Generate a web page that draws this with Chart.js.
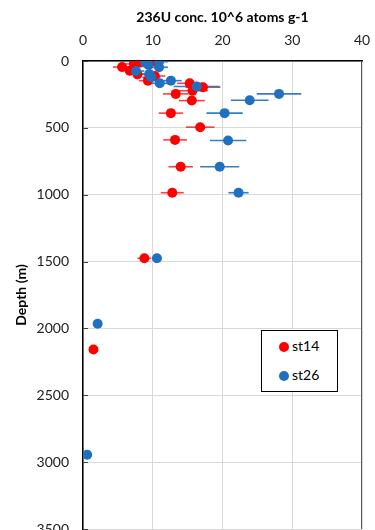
<!DOCTYPE html>
<html>
<head>
<meta charset="utf-8">
<script src="https://cdn.jsdelivr.net/npm/chart.js@4.4.1/dist/chart.umd.min.js"></script>
<style>
  html, body { margin: 0; padding: 0; background: #fff; overflow: hidden; }
  #wrap { position: relative; width: 375px; height: 548px; }
  #legend {
    position: absolute; left: 261px; top: 330px; width: 77px; height: 62px;
    border: 1px solid #000; box-sizing: border-box; background: #fff;
    font-family: Lato, "Open Sans", sans-serif; font-size: 14px; color: #000;
  }
  #legend .item { position: absolute; left: 17px; height: 16px; line-height: 16px; }
  #legend .dot { display: inline-block; width: 10px; height: 10px; border-radius: 50%; vertical-align: -1px; margin-right: 3px; }
</style>
</head>
<body>
<div id="wrap">
  <canvas id="chart" width="375" height="548"></canvas>
  <div id="legend">
    <div class="item" style="top:7px"><span class="dot" style="background:#ff0000"></span>st14</div>
    <div class="item" style="top:36px"><span class="dot" style="background:#1f70c1"></span>st26</div>
  </div>
</div>
<script>
// --- data ---
const depth14 = [5, 12, 22, 45, 72, 100, 112, 147, 167, 196, 222, 246, 296, 390, 495, 590, 791, 985, 1475, 2157];
const conc14  = [9.8, 8.2, 7.3, 5.6, 6.7, 7.8, 10.3, 9.3, 15.3, 17.2, 15.7, 13.3, 15.6, 12.6, 16.8, 13.2, 14.0, 12.8, 8.8, 1.5];
const err14   = [1.5, 1.5, 1.5, 1.3, 1.3, 1.3, 1.5, 1.3, 1.8, 2.5, 2.2, 1.85, 1.85, 1.75, 2.05, 1.7, 1.75, 1.65, 1.0, 0];

const depth26 = [5, 12, 30, 47, 75, 97, 122, 147, 167, 191, 246, 293, 390, 595, 791, 985, 1475, 1965, 2945];
const conc26  = [10.9, 8.9, 9.4, 10.9, 7.6, 9.5, 9.8, 12.6, 11.0, 16.3, 28.1, 23.9, 20.3, 20.8, 19.6, 22.3, 10.6, 2.1, 0.6];
const err26   = [1.3, 1.2, 1.2, 1.3, 1.2, 1.3, 1.3, 1.55, 1.5, 3.3, 3.2, 2.7, 2.6, 2.6, 2.8, 1.45, 0.7, 0, 0];

const xTicks = [0, 10, 20, 30, 40];
const yTicks = [0, 500, 1000, 1500, 2000, 2500, 3000, 3500];

const RED = '#ff0000';
const BLUE = '#1f70c1';
const FONT = 'Lato, "Open Sans", sans-serif';

const toPoints = (xs, ys) => xs.map((v, i) => ({ x: v, y: ys[i] }));

// horizontal error bars + frame bits, drawn under the markers
const errorBars = {
  id: 'errorBars',
  beforeDatasetsDraw(chart) {
    const { ctx, chartArea: a, scales: { x, y } } = chart;
    ctx.save();
    // inner tick marks on the depth axis
    ctx.strokeStyle = '#404040';
    ctx.lineWidth = 1;
    yTicks.forEach(t => {
      const py = Math.round(y.getPixelForValue(t)) + 0.5;
      ctx.beginPath(); ctx.moveTo(a.left, py); ctx.lineTo(a.left + 5, py); ctx.stroke();
    });
    // right frame
    ctx.strokeStyle = '#595959';
    ctx.beginPath(); ctx.moveTo(a.right - 0.5, a.top); ctx.lineTo(a.right - 0.5, a.bottom); ctx.stroke();

    chart.data.datasets.forEach((ds, i) => {
      const meta = chart.getDatasetMeta(i);
      if (meta.hidden) return;
      ctx.strokeStyle = ds.errColor;
      ctx.lineWidth = 1.6;
      ds.data.forEach((p, j) => {
        const e = ds.xErr[j];
        if (!e) return;
        const py = y.getPixelForValue(p.y);
        ctx.beginPath();
        ctx.moveTo(x.getPixelForValue(p.x - e), py);
        ctx.lineTo(x.getPixelForValue(p.x + e), py);
        ctx.stroke();
      });
    });
    ctx.restore();
  }
};

new Chart(document.getElementById('chart'), {
  type: 'scatter',
  data: {
    datasets: [
      {
        label: 'st14', data: toPoints(conc14, depth14), xErr: err14, errColor: 'rgba(255,30,30,0.85)',
        backgroundColor: RED, borderColor: RED, pointRadius: 5, pointBorderWidth: 0, order: 2
      },
      {
        label: 'st26', data: toPoints(conc26, depth26), xErr: err26, errColor: 'rgba(31,112,193,0.9)',
        backgroundColor: BLUE, borderColor: BLUE, pointRadius: 5, pointBorderWidth: 0, order: 1
      }
    ]
  },
  options: {
    responsive: false,
    animation: false,
    layout: { padding: { left: 0, right: 13, top: 0, bottom: 19 } },
    plugins: { legend: { display: false }, tooltip: { enabled: false } },
    scales: {
      x: {
        position: 'top', min: 0, max: 40,
        afterBuildTicks: s => { s.ticks = xTicks.map(v => ({ value: v })); },
        afterFit: s => { s.height = 61; s.paddingLeft = 0; s.paddingRight = 0; },
        grid: { color: '#d9d9d9', drawTicks: false },
        border: { color: '#000', width: 1.5 },
        ticks: { padding: 12, color: '#222', font: { family: FONT, size: 14 }, callback: v => String(v) },
        title: {
          display: true, text: '236U conc. 10^6 atoms g-1', color: '#000',
          font: { family: FONT, size: 14, weight: 'bold' }, padding: { top: 9, bottom: 0 }
        }
      },
      y: {
        reverse: true, min: 0, max: 3500,
        afterBuildTicks: s => { s.ticks = yTicks.map(v => ({ value: v })); },
        afterFit: s => { s.width = 83; s.paddingTop = 0; s.paddingBottom = 0; },
        grid: { color: '#d9d9d9', drawTicks: false },
        border: { color: '#000', width: 1.5 },
        ticks: { padding: 14, color: '#222', font: { family: FONT, size: 14 }, callback: v => String(v) },
        title: {
          display: true, text: 'Depth (m)', color: '#000',
          font: { family: FONT, size: 14, weight: 'bold' }, padding: { top: 13, bottom: 0 }
        }
      }
    }
  },
  plugins: [errorBars]
});
</script>
</body>
</html>
